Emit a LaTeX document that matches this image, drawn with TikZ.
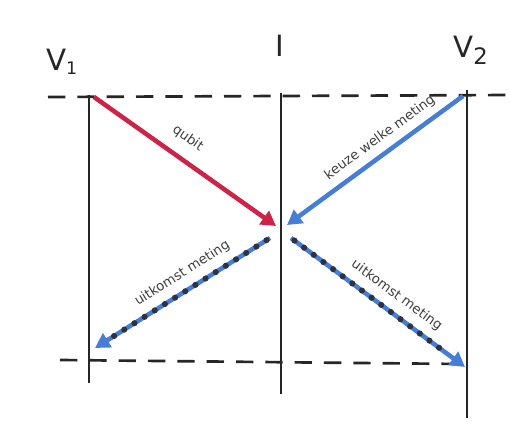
\documentclass[tikz,border=0pt]{standalone}
\usepackage{fontspec}
\setmainfont{DejaVu Sans}
\usetikzlibrary{arrows.meta,calc}
\definecolor{qred}{RGB}{205,35,70}
\definecolor{qblue}{RGB}{70,125,215}
\definecolor{dotgray}{RGB}{45,50,65}
\tikzset{
  timeline/.style={line width=2pt, black!85},
  sepline/.style={line width=2pt, black!85, dash pattern=on 13pt off 9pt},
  redarrow/.style={line width=3.4pt, qred, -{Triangle[length=11pt,width=12pt]}},
  bluearrow/.style={line width=3.4pt, qblue, -{Triangle[length=11pt,width=12pt]}},
  dotover/.style={line width=4.6pt, dotgray, line cap=round, dash pattern=on 0pt off 9pt},
  hand/.style={font=\fontsize{10}{11}\selectfont, text=black!75, inner sep=1pt},
  party/.style={font=\fontsize{22}{24}\selectfont, text=black!85}
}
\begin{document}
\begin{tikzpicture}[x=0.75pt,y=-0.75pt]
\useasboundingbox[fill=white] (0,0) rectangle (511,431);
% coordinates
\coordinate (v1t) at (89,95);
\coordinate (v1b) at (89,383);
\coordinate (it) at (281,93);
\coordinate (ib) at (281,394);
\coordinate (v2t) at (467,90);
\coordinate (v2b) at (467,418);
\coordinate (tl) at (48,97);
\coordinate (tr) at (511,95);
\coordinate (bl) at (60,360);
\coordinate (br) at (460,364);
% party labels
\node[party] (lv1) at (62,62) {V\textsubscript{\fontsize{13}{14}\selectfont 1}};
\node[party] (li) at (280,46) {I};
\node[party] (lv2) at (471,50) {V\textsubscript{\fontsize{17}{17}\selectfont 2}};
% lines
\draw[timeline] (v1t) -- (v1b);
\draw[timeline] (it) -- (ib);
\draw[timeline] (v2t) -- (v2b);
\draw[sepline] (tl) -- (tr);
\draw[sepline] (bl) -- (br);
% arrow endpoints
\coordinate (rs) at (94,97);
\coordinate (re) at (276,226);
\coordinate (bs) at (463,96);
\coordinate (be) at (287,225);
\coordinate (ls) at (270,238);
\coordinate (le) at (95,348);
\coordinate (rs2) at (291,238);
\coordinate (re2) at (465,367);
% arrows
\draw[redarrow] (rs) -- (re) node[pos=0.45, sloped, above=8pt, hand] (lq) {qubit};
\draw[bluearrow] (bs) -- (be) node[pos=0.42, sloped, above=4pt, hand] (lk) {keuze welke meting};
\draw[bluearrow] (ls) -- (le) node[pos=0.45, sloped, above=5pt, hand] (lu1) {uitkomst meting};
\draw[dotover] ($(ls)!0.02!(le)$) -- ($(ls)!0.9!(le)$);
\draw[bluearrow] (rs2) -- (re2) node[pos=0.55, sloped, above=5pt, hand] (lu2) {uitkomst meting};
\draw[dotover] ($(rs2)!0.02!(re2)$) -- ($(rs2)!0.9!(re2)$);
\end{tikzpicture}
\end{document}
